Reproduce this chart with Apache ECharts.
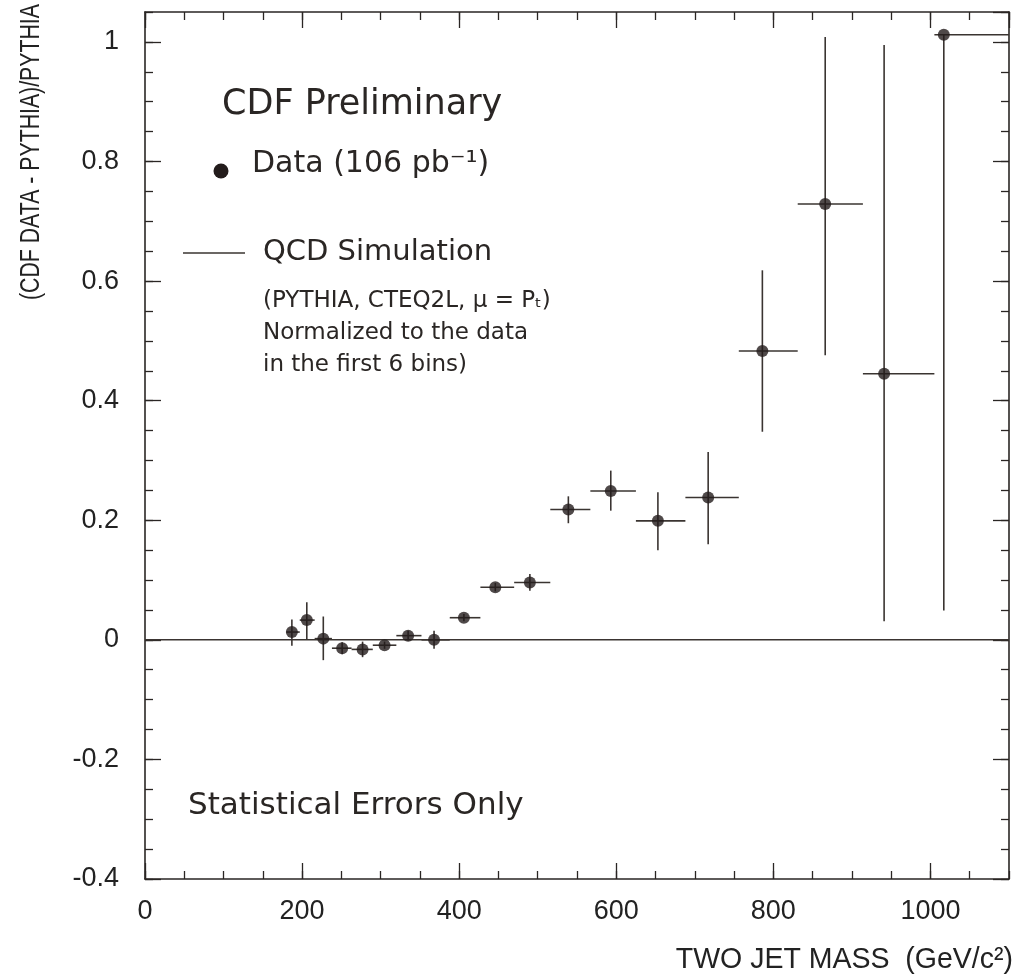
<!DOCTYPE html>
<html><head><meta charset="utf-8">
<script src="https://cdn.jsdelivr.net/npm/echarts@6/dist/echarts.min.js"></script>
<style>html,body{margin:0;padding:0;background:#fff}#c{width:1019px;height:977px}</style>
</head><body><div id="c"></div>
<script>
// Dijet mass bin centres (GeV/c^2) and bin edges
const massCenters = [187, 206, 227, 251, 277, 305, 335, 368, 406, 446, 490, 539, 593, 653, 717, 786, 866, 941, 1017];
const binLow  = [180, 197, 216, 238, 263, 290, 320, 352, 388, 427, 470, 516, 567, 625, 688, 756, 831, 914, 1005];
const binHigh = [197, 216, 238, 263, 290, 320, 352, 388, 427, 470, 516, 567, 625, 688, 756, 831, 914, 1005, 1100];
// (Data - Pythia)/Pythia and statistical errors
const ratio   = [0.013, 0.033, 0.002, -0.014, -0.016, -0.009, 0.007, 0.000, 0.037, 0.088, 0.096, 0.218, 0.249, 0.199, 0.238, 0.483, 0.729, 0.445, 1.012];
const errDown = [0.023, 0.033, 0.036, 0.010, 0.013, 0.006, 0.008, 0.015, 0.006, 0.007, 0.014, 0.023, 0.033, 0.049, 0.078, 0.135, 0.253, 0.414, 0.963];
const errUp   = [0.021, 0.030, 0.037, 0.010, 0.013, 0.006, 0.008, 0.015, 0.006, 0.007, 0.014, 0.022, 0.034, 0.048, 0.076, 0.135, 0.279, 0.550, 0.000];
// QCD simulation (normalised) reference line
const qcdX = [0, 1100];
const qcdY = [0, 0];

const ink = '#2a2624';
const chart = echarts.init(document.getElementById('c'), null, {renderer: 'canvas'});

const errData = massCenters.map((m, i) => [m, ratio[i], binLow[i], binHigh[i], ratio[i] - errDown[i], ratio[i] + errUp[i]]);
const ptData = massCenters.map((m, i) => [m, ratio[i]]);
const qcdData = qcdX.map((x, i) => [x, qcdY[i]]);

function xAx(pos, interval, len, main, showLabel) {
  return {
    type: 'value', position: pos, min: 0, max: 1100, interval: interval,
    axisLine: {show: main, onZero: false, lineStyle: {color: ink, width: 1.6}},
    axisTick: {show: true, inside: true, length: len, lineStyle: {color: ink, width: 1.3}},
    axisLabel: {show: showLabel, fontSize: 27, margin: 19, color: '#222', fontFamily: 'Liberation Sans',
      showMaxLabel: false,
      formatter: v => (Math.abs(v % 200) < 1e-6 ? String(v) : '')},
    splitLine: {show: false}
  };
}
function yAx(pos, interval, len, main, showLabel) {
  return {
    type: 'value', position: pos, min: -0.4, max: 1.05, interval: interval,
    axisLine: {show: main, onZero: false, lineStyle: {color: ink, width: 1.6}},
    axisTick: {show: true, inside: true, length: len, lineStyle: {color: ink, width: 1.3}},
    axisLabel: {show: showLabel, fontSize: 27, margin: 26, color: '#222', fontFamily: 'Liberation Sans',
      showMaxLabel: false,
      formatter: v => {
        const r = Math.round(v * 5) / 5;
        if (Math.abs(v - r) > 1e-6) return '';
        return String(Math.round(r * 10) / 10);
      }},
    splitLine: {show: false}
  };
}

const option = {
  backgroundColor: '#ffffff',
  animation: false,
  grid: {left: 145, right: 10, top: 12, bottom: 98},
  xAxis: [
    xAx('bottom', 200, 16, true, true),
    xAx('bottom', 50, 8, false, false),
    xAx('top', 200, 16, true, false),
    xAx('top', 50, 8, false, false)
  ],
  yAxis: [
    yAx('left', 0.2, 16, true, true),
    yAx('left', 0.05, 8, false, false),
    yAx('right', 0.2, 16, true, false),
    yAx('right', 0.05, 8, false, false)
  ],
  series: [
    {
      name: 'QCD Simulation', type: 'line', xAxisIndex: 0, yAxisIndex: 0,
      data: qcdData, symbol: 'none', silent: true,
      lineStyle: {color: '#3a3431', width: 1.5}, z: 1
    },
    {
      name: 'errors', type: 'custom', xAxisIndex: 0, yAxisIndex: 0, clip: true,
      data: errData, encode: {x: 0, y: 1}, z: 2,
      renderItem: function (params, api) {
        const x = api.value(0), y = api.value(1);
        const pL = api.coord([api.value(2), y]), pR = api.coord([api.value(3), y]);
        const pB = api.coord([x, api.value(4)]), pT = api.coord([x, api.value(5)]);
        const st = {stroke: '#3a3431', lineWidth: 1.6};
        return {type: 'group', children: [
          {type: 'line', shape: {x1: pL[0], y1: pL[1], x2: pR[0], y2: pR[1]}, style: st},
          {type: 'line', shape: {x1: pB[0], y1: pB[1], x2: pT[0], y2: pT[1]}, style: st}
        ]};
      }
    },
    {
      name: 'Data', type: 'scatter', xAxisIndex: 0, yAxisIndex: 0,
      data: ptData, symbol: 'circle', symbolSize: 12, z: 3,
      itemStyle: {color: '#231c1b'}
    }
  ],
  graphic: [
    {type: 'text', left: 222, top: 87, style: {text: 'CDF Preliminary', font: '35px "DejaVu Sans"', fill: '#2a2624'}},
    {type: 'circle', shape: {cx: 221, cy: 171, r: 7.5}, style: {fill: '#231c1b'}},
    {type: 'text', left: 252, top: 149, style: {text: 'Data (106 pb\u207B\u00B9)', font: '30px "DejaVu Sans"', fill: '#2a2624'}},
    {type: 'line', shape: {x1: 183, y1: 253, x2: 245, y2: 253}, style: {stroke: '#3a3431', lineWidth: 1.5}},
    {type: 'text', left: 263, top: 238, style: {text: 'QCD Simulation', font: '29px "DejaVu Sans"', fill: '#2a2624'}},
    {type: 'text', left: 263, top: 290, style: {text: '(PYTHIA, CTEQ2L, \u03BC = P\u209C)', font: '23px "DejaVu Sans"', fill: '#2a2624'}},
    {type: 'text', left: 263, top: 322, style: {text: 'Normalized to the data', font: '23px "DejaVu Sans"', fill: '#2a2624'}},
    {type: 'text', left: 263, top: 354, style: {text: 'in the first 6 bins)', font: '23px "DejaVu Sans"', fill: '#2a2624'}},
    {type: 'text', left: 188, top: 790, style: {text: 'Statistical Errors Only', font: '31px "DejaVu Sans"', fill: '#2a2624'}},
    {type: 'text', x: 31, y: 152, rotation: Math.PI / 2, scaleX: 0.76,
      style: {text: '(CDF DATA - PYTHIA)/PYTHIA', font: '28px "Liberation Sans"', fill: '#222', align: 'center', verticalAlign: 'middle'}},
    {type: 'text', x: 1013, y: 960, scaleX: 0.95,
      style: {text: 'TWO JET MASS  (GeV/c\u00B2)', font: '30px "Liberation Sans"', fill: '#222', align: 'right', verticalAlign: 'middle'}}
  ]
};
chart.setOption(option);
</script>
</body></html>
